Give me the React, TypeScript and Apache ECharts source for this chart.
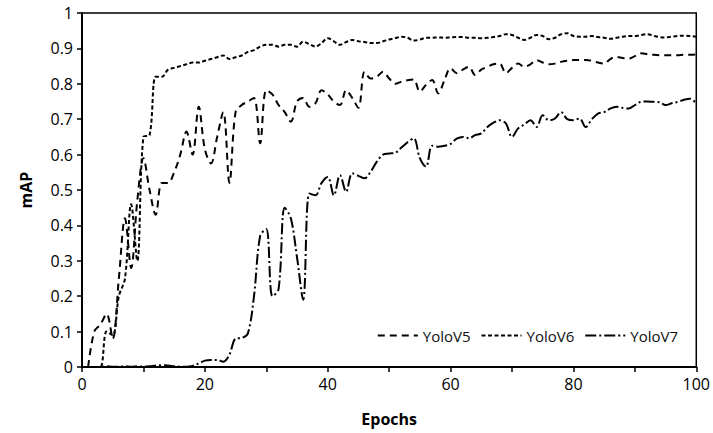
import React, { useEffect, useRef } from "react";
import * as echarts from "echarts";

const epochs: number[] = Array.from({ length: 100 }, (_, i) => i + 1);

const yoloV5: number[] = [
  0, 0.1, 0.12, 0.15, 0.08, 0.25, 0.42, 0.28, 0.47, 0.59,
  0.5, 0.43, 0.52, 0.52, 0.55, 0.6, 0.665, 0.6, 0.735, 0.615,
  0.575, 0.65, 0.72, 0.52, 0.72, 0.74, 0.75, 0.76, 0.632, 0.782,
  0.77, 0.74, 0.72, 0.693, 0.75, 0.76, 0.735, 0.745, 0.782, 0.77,
  0.75, 0.74, 0.782, 0.76, 0.732, 0.834, 0.815, 0.82, 0.834, 0.815,
  0.8, 0.806, 0.81, 0.812, 0.778, 0.797, 0.811, 0.773, 0.81, 0.844,
  0.83, 0.84, 0.848, 0.825, 0.84, 0.848, 0.855, 0.857, 0.83, 0.845,
  0.857, 0.848, 0.855, 0.867, 0.86, 0.855, 0.857, 0.862, 0.865, 0.867,
  0.867, 0.867, 0.865, 0.86, 0.857, 0.87, 0.876, 0.873, 0.871, 0.878,
  0.886, 0.884, 0.882, 0.881, 0.881, 0.881, 0.881, 0.882, 0.882, 0.883,
];

const yoloV6: number[] = [
  0, 0, 0, 0.1, 0.09, 0.2, 0.25, 0.46, 0.3, 0.65,
  0.655, 0.82, 0.82, 0.84, 0.845, 0.85, 0.855, 0.86, 0.86, 0.865,
  0.87, 0.875, 0.88, 0.87, 0.875, 0.88, 0.89, 0.895, 0.905, 0.91,
  0.91, 0.905, 0.91, 0.91, 0.905, 0.919, 0.912, 0.905, 0.915, 0.929,
  0.92, 0.91, 0.918, 0.924, 0.92, 0.918, 0.915, 0.915, 0.92, 0.925,
  0.929, 0.933, 0.93, 0.922, 0.925, 0.93, 0.93, 0.931, 0.93, 0.931,
  0.932, 0.932, 0.93, 0.93, 0.929, 0.93, 0.932, 0.935, 0.94, 0.938,
  0.93, 0.924, 0.93, 0.938, 0.935, 0.926, 0.93, 0.94, 0.943, 0.935,
  0.933, 0.933, 0.935, 0.932, 0.93, 0.927, 0.93, 0.933, 0.935, 0.935,
  0.938, 0.94, 0.936, 0.932, 0.931, 0.933, 0.935, 0.936, 0.935, 0.933,
];

const yoloV7: number[] = [
  0, 0, 0, 0.002, 0.001, 0.001, 0.002, 0.001, 0.002, 0.001,
  0.002, 0.004, 0.005, 0.004, 0.002, 0.001, 0.001, 0.003, 0.01, 0.018,
  0.02, 0.02, 0.015, 0.035, 0.08, 0.082, 0.095, 0.2, 0.37, 0.39,
  0.2, 0.22, 0.45, 0.42, 0.31, 0.19, 0.49, 0.485, 0.52, 0.537,
  0.485, 0.542, 0.495, 0.547, 0.54, 0.533, 0.552, 0.58, 0.6, 0.603,
  0.605, 0.62, 0.635, 0.646, 0.59, 0.566, 0.625, 0.622, 0.625, 0.63,
  0.645, 0.65, 0.646, 0.655, 0.66, 0.678, 0.69, 0.697, 0.688, 0.65,
  0.674, 0.685, 0.697, 0.678, 0.711, 0.697, 0.702, 0.72, 0.7, 0.697,
  0.702, 0.678, 0.7, 0.716, 0.72, 0.73, 0.735, 0.732, 0.73, 0.74,
  0.749, 0.75, 0.749, 0.748, 0.74, 0.745, 0.749, 0.755, 0.758, 0.744,
];

const seriesNames: string[] = ["YoloV5", "YoloV6", "YoloV7"];

export default function App() {
  const ref = useRef<HTMLDivElement>(null);
  useEffect(() => {
    if (!ref.current) return;
    const chart = echarts.init(ref.current, null, { renderer: "svg" });
    const font = "'Open Sans', 'Noto Sans', sans-serif";
    const pairs = (arr: number[]) => epochs.map((e, i) => [e, arr[i]]);
    const mk = (name: string, data: number[], dash: number[]) => ({
      name,
      type: "line",
      data: pairs(data),
      symbol: "none",
      smooth: 0.35,
      lineStyle: { color: "#000", width: 2, type: dash },
      itemStyle: { color: "#000" },
    });
    chart.setOption({
      animation: false,
      backgroundColor: "#fff",
      textStyle: { fontFamily: font },
      grid: {
        left: 82,
        right: 15,
        top: 13,
        bottom: 66,
        show: true,
        borderColor: "#000",
        borderWidth: 1.5,
        containLabel: false,
      },
      legend: {
        right: 30,
        top: 323,
        itemWidth: 40,
        itemHeight: 14,
        itemGap: 10,
        itemStyle: { opacity: 0 },
        lineStyle: { opacity: 1 },
        textStyle: { fontSize: 15, color: "#111", fontFamily: font },
        data: seriesNames,
      },
      xAxis: {
        type: "value",
        min: 0,
        max: 100,
        interval: 20,
        name: "Epochs",
        nameLocation: "middle",
        nameGap: 44,
        nameTextStyle: { fontSize: 16, fontWeight: "bold", color: "#000", fontFamily: font },
        axisLine: { lineStyle: { color: "#000", width: 2 } },
        axisTick: { show: true, length: 5, lineStyle: { color: "#000", width: 1.5 } },
        minorTick: { show: true, splitNumber: 2, length: 5, lineStyle: { color: "#000", width: 1.5 } },
        splitLine: { show: false },
        axisLabel: { fontSize: 16, color: "#000", margin: 9, fontFamily: font },
      },
      yAxis: {
        type: "value",
        min: 0,
        max: 1,
        interval: 0.1,
        name: "mAP",
        nameLocation: "middle",
        nameGap: 48,
        nameRotate: 90,
        nameTextStyle: { fontSize: 16, fontWeight: "bold", color: "#000", fontFamily: font },
        axisLine: { show: true, lineStyle: { color: "#000", width: 2 } },
        axisTick: { show: true, length: 5, lineStyle: { color: "#000", width: 1.5 } },
        splitLine: { show: false },
        axisLabel: {
          fontSize: 16,
          color: "#000",
          margin: 9,
          fontFamily: font,
          formatter: (v: number) => String(parseFloat(v.toFixed(1))),
        },
      },
      series: [
        mk(seriesNames[0], yoloV5, [7, 5]),
        mk(seriesNames[1], yoloV6, [4, 2.5]),
        mk(seriesNames[2], yoloV7, [11, 3, 2, 3]),
      ],
    });
    return () => chart.dispose();
  }, []);
  return <div ref={ref} style={{ width: 713, height: 433, position: "absolute", left: 0, top: 0, background: "#fff" }} />;
}
